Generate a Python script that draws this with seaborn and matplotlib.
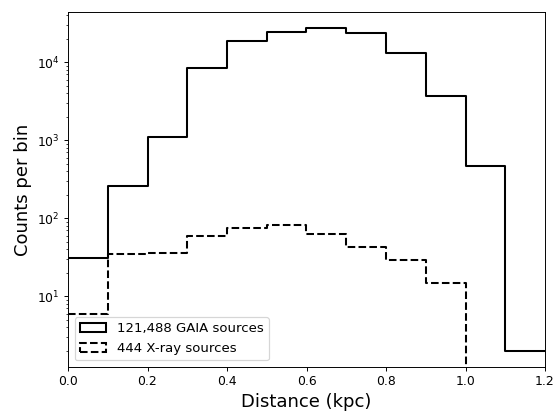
import numpy as np
import pandas as pd
import matplotlib
matplotlib.use("Agg")
import matplotlib.pyplot as plt
from matplotlib.patches import Patch
import seaborn as sns

bin_edges = [0.0, 0.1, 0.2, 0.3, 0.4, 0.5, 0.6, 0.7, 0.8, 0.9, 1.0, 1.1, 1.2]
gaia_counts = [31, 257, 1085, 8550, 18970, 24500, 27100, 23825, 13000, 3700, 468, 2]
xray_counts = [6, 35, 36, 60, 76, 82, 62, 43, 29, 15, 0, 0]
gaia_label = "121,488 GAIA sources"
xray_label = "444 X-ray sources"

edges = np.array(bin_edges)
centers = (edges[:-1] + edges[1:]) / 2
df = pd.DataFrame({"dist": centers, "gaia": gaia_counts, "xray": xray_counts})

DPI = 86.72
fig = plt.figure(figsize=(555 / DPI, 413 / DPI), dpi=DPI)
ax = fig.add_axes([68 / 555, 46 / 413, 477 / 555, 355 / 413])

sns.histplot(data=df, x="dist", weights="gaia", bins=bin_edges, element="step",
             fill=False, color="black", linewidth=1.7, ax=ax)
sns.histplot(data=df, x="dist", weights="xray", bins=bin_edges, element="step",
             fill=False, color="black", linewidth=1.7, linestyle="--", ax=ax)

ax.set_yscale("log")
ax.set_xlim(0, 1.2)
ax.set_ylim(1.24, 44000)
ax.set_xticks([0.0, 0.2, 0.4, 0.6, 0.8, 1.0, 1.2])
ax.tick_params(labelsize=10.3)
ax.set_xlabel("Distance (kpc)", fontsize=15)
ax.set_ylabel("Counts per bin", fontsize=15)

handles = [Patch(facecolor="none", edgecolor="black", linewidth=1.7, label=gaia_label),
           Patch(facecolor="none", edgecolor="black", linewidth=1.7, linestyle="--", label=xray_label)]
ax.legend(handles=handles, loc="lower left", fontsize=11)

fig.savefig("out.png", dpi=DPI)
